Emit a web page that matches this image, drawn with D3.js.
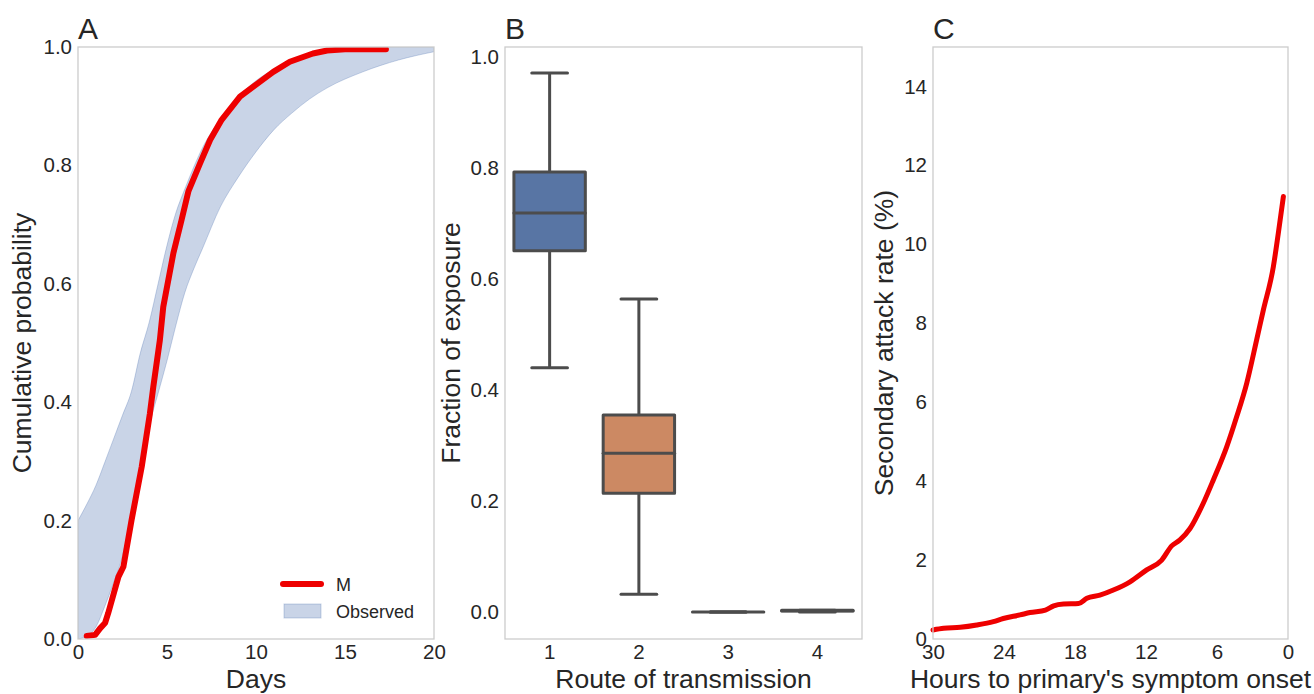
<!DOCTYPE html>
<html>
<head>
<meta charset="utf-8">
<script src="https://cdn.jsdelivr.net/npm/d3@7"></script>
<style>
body { margin: 0; background: #fff; }
text { font-family: "Liberation Sans", Arial, sans-serif; fill: #262626; }
</style>
</head>
<body>
<svg></svg>
<script>
// panel A: model CDF vs observed band
var mDays = [0.49, 0.96, 1.24, 1.52, 1.7, 2.27, 2.55, 3.01, 3.58, 4.04, 4.23, 4.6, 4.79, 5.36, 5.82, 6.2, 6.85, 7.42, 8.07, 9.1, 9.85, 10.97, 11.9, 13.2, 14.0, 15.0, 17.3];
var mProb = [0.005, 0.007, 0.018, 0.027, 0.044, 0.105, 0.122, 0.201, 0.291, 0.381, 0.426, 0.505, 0.561, 0.652, 0.708, 0.756, 0.803, 0.843, 0.877, 0.916, 0.933, 0.958, 0.975, 0.989, 0.994, 0.996, 0.996];
var obsDays  = [0, 0.5, 1, 1.5, 2, 2.5, 3, 3.5, 4, 4.5, 5, 5.5, 6, 6.5, 7, 8, 9, 10, 11, 12, 13, 14, 16, 18, 20];
var obsUpper = [0.20, 0.228, 0.259, 0.298, 0.338, 0.378, 0.418, 0.483, 0.535, 0.60, 0.665, 0.72, 0.76, 0.797, 0.83, 0.878, 0.915, 0.943, 0.962, 0.976, 0.987, 0.995, 1.0, 1.0, 1.0];
var obsLower = [0.0, 0.005, 0.02, 0.055, 0.095, 0.14, 0.21, 0.285, 0.36, 0.415, 0.47, 0.53, 0.585, 0.625, 0.66, 0.73, 0.78, 0.823, 0.86, 0.888, 0.912, 0.931, 0.958, 0.978, 0.992];
var aXTicks = [0, 5, 10, 15, 20];
var aYTicks = [0, 0.2, 0.4, 0.6, 0.8, 1.0];

// panel B: box plot per route
var routes = ["1", "2", "3", "4"];
var whiskLow = [0.44, 0.032, 0.0, 0.0];
var q1 = [0.651, 0.214, 0.0, 0.002];
var median = [0.719, 0.286, 0.0, 0.0025];
var q3 = [0.793, 0.355, 0.0, 0.003];
var whiskHigh = [0.971, 0.564, 0.0, 0.003];
var boxColors = ["#5875a4", "#cc8963", "#5f9e6e", "#b55d60"];
var bYTicks = [0, 0.2, 0.4, 0.6, 0.8, 1.0];

// panel C: secondary attack rate
var hours = [30, 29.1, 27.7, 26.3, 24.9, 24.06, 22.65, 21.8, 20.5, 19.8, 18.97, 17.7, 17.0, 15.9, 14.76, 13.35, 11.94, 10.67, 9.83, 9.13, 8.28, 7.16, 6.31, 5.18, 4.34, 3.49, 2.65, 2.08, 1.24, 0.82, 0.39];
var rate = [0.228, 0.27, 0.296, 0.355, 0.44, 0.52, 0.61, 0.67, 0.73, 0.84, 0.887, 0.90, 1.03, 1.11, 1.24, 1.45, 1.75, 2.0, 2.36, 2.51, 2.80, 3.44, 4.03, 4.87, 5.63, 6.48, 7.58, 8.34, 9.43, 10.28, 11.21];
var cXTicks = [30, 24, 18, 12, 6, 0];
var cYTicks = [0, 2, 4, 6, 8, 10, 12, 14];

var width = 1314;
var height = 694;
var plotTop = 47, plotBottom = 639;
var spine = "#cccccc";
var boxLine = "#4c4c4c";

var svg = d3.select("svg")
            .attr("width", width)
            .attr("height", height);

var styleAxis = function(g)
{
  g.select(".domain").remove();
  g.selectAll("text").attr("font-size", 20.5).style("fill", "#262626")
   .attr("font-family", "Liberation Sans, Arial, sans-serif");
}

var frame = function(left, right, letter, ylabel, ylabelX, xlabel)
{
  svg.append("rect")
     .attr("x", left).attr("y", plotTop)
     .attr("width", right - left).attr("height", plotBottom - plotTop)
     .attr("fill", "none").attr("stroke", spine).attr("stroke-width", 1.3);
  svg.append("text").text(letter)
     .attr("x", left).attr("y", 39).attr("font-size", 30);
  svg.append("text").text(xlabel)
     .attr("x", (left + right) / 2).attr("y", 688)
     .attr("text-anchor", "middle").attr("font-size", 26.5);
  svg.append("text").text(ylabel)
     .attr("transform", "translate(" + ylabelX + "," + ((plotTop + plotBottom) / 2) + ") rotate(-90)")
     .attr("text-anchor", "middle").attr("font-size", 26.5);
}

// ---------- A ----------
var ax = d3.scaleLinear().domain([0, 20]).range([78, 434]);
var ay = d3.scaleLinear().domain([0, 1]).range([plotBottom, plotTop]);

svg.append("clipPath").attr("id", "clipA")
   .append("rect").attr("x", 78).attr("y", plotTop).attr("width", 356).attr("height", plotBottom - plotTop);

var obs = obsDays.map(function(d, i) { return {d: d, lo: obsLower[i], hi: obsUpper[i]}; });
var band = d3.area()
             .x(function(d) { return ax(d.d); })
             .y0(function(d) { return ay(d.lo); })
             .y1(function(d) { return ay(d.hi); })
             .curve(d3.curveMonotoneX);
svg.append("path")
   .attr("d", band(obs))
   .attr("fill", "#4c72b0").attr("fill-opacity", 0.3)
   .attr("stroke", "#4c72b0").attr("stroke-opacity", 0.3).attr("stroke-width", 1)
   .attr("clip-path", "url(#clipA)");

var mLine = d3.line()
              .x(function(d, i) { return ax(mDays[i]); })
              .y(function(d) { return ay(d); });
svg.append("path")
   .attr("d", mLine(mProb))
   .attr("fill", "none").attr("stroke", "#ee0000").attr("stroke-width", 6)
   .attr("stroke-linejoin", "round").attr("stroke-linecap", "round")
   .attr("clip-path", "url(#clipA)");

svg.append("g").attr("transform", "translate(0," + plotBottom + ")")
   .call(d3.axisBottom(ax).tickValues(aXTicks).tickSize(0).tickPadding(5))
   .call(styleAxis);
svg.append("g").attr("transform", "translate(78,0)")
   .call(d3.axisLeft(ay).tickValues(aYTicks).tickFormat(d3.format(".1f")).tickSize(0).tickPadding(6))
   .call(styleAxis);

frame(78, 434, "A", "Cumulative probability", 31, "Days");

// legend
svg.append("line")
   .attr("x1", 283).attr("x2", 321).attr("y1", 584).attr("y2", 584)
   .attr("stroke", "#ee0000").attr("stroke-width", 6).attr("stroke-linecap", "round");
svg.append("text").text("M").attr("x", 336).attr("y", 591).attr("font-size", 18);
svg.append("rect")
   .attr("x", 284).attr("y", 604).attr("width", 37).attr("height", 14)
   .attr("fill", "#4c72b0").attr("fill-opacity", 0.3)
   .attr("stroke", "#4c72b0").attr("stroke-opacity", 0.3);
svg.append("text").text("Observed").attr("x", 336).attr("y", 618).attr("font-size", 18);

// ---------- B ----------
var bx = d3.scaleBand().domain(routes).range([505, 862]).paddingInner(0.2).paddingOuter(0.1);
var by = d3.scaleLinear().domain([-0.0486, 1.018]).range([plotBottom, plotTop]);
var bw = bx.bandwidth();

var boxes = svg.selectAll("g.box")
   .data(routes)
   .enter()
   .append("g")
   .attr("class", "box");

boxes.append("line")
     .attr("x1", function(d) { return bx(d) + bw / 2; })
     .attr("x2", function(d) { return bx(d) + bw / 2; })
     .attr("y1", function(d, i) { return by(whiskHigh[i]); })
     .attr("y2", function(d, i) { return by(whiskLow[i]); })
     .attr("stroke", boxLine).attr("stroke-width", 3);
boxes.append("line")
     .attr("x1", function(d) { return bx(d) + bw / 4; })
     .attr("x2", function(d) { return bx(d) + bw * 3 / 4; })
     .attr("y1", function(d, i) { return by(whiskHigh[i]); })
     .attr("y2", function(d, i) { return by(whiskHigh[i]); })
     .attr("stroke", boxLine).attr("stroke-width", 3).attr("stroke-linecap", "round");
boxes.append("line")
     .attr("x1", function(d) { return bx(d) + bw / 4; })
     .attr("x2", function(d) { return bx(d) + bw * 3 / 4; })
     .attr("y1", function(d, i) { return by(whiskLow[i]); })
     .attr("y2", function(d, i) { return by(whiskLow[i]); })
     .attr("stroke", boxLine).attr("stroke-width", 3).attr("stroke-linecap", "round");
boxes.append("rect")
     .attr("x", function(d) { return bx(d); })
     .attr("y", function(d, i) { return by(q3[i]); })
     .attr("width", bw)
     .attr("height", function(d, i) { return by(q1[i]) - by(q3[i]); })
     .attr("fill", function(d, i) { return boxColors[i]; })
     .attr("stroke", boxLine).attr("stroke-width", 3)
     .attr("stroke-linejoin", "round");
boxes.append("line")
     .attr("x1", function(d) { return bx(d); })
     .attr("x2", function(d) { return bx(d) + bw; })
     .attr("y1", function(d, i) { return by(median[i]); })
     .attr("y2", function(d, i) { return by(median[i]); })
     .attr("stroke", boxLine).attr("stroke-width", 3).attr("stroke-linecap", "round");

svg.append("g").attr("transform", "translate(0," + plotBottom + ")")
   .call(d3.axisBottom(bx).tickSize(0).tickPadding(5))
   .call(styleAxis);
svg.append("g").attr("transform", "translate(505,0)")
   .call(d3.axisLeft(by).tickValues(bYTicks).tickFormat(d3.format(".1f")).tickSize(0).tickPadding(6))
   .call(styleAxis);

frame(505, 862, "B", "Fraction of exposure", 460, "Route of transmission");

// ---------- C ----------
var cx = d3.scaleLinear().domain([30, 0]).range([933, 1288]);
var cy = d3.scaleLinear().domain([0, 15]).range([plotBottom, plotTop]);

var cLine = d3.line()
              .x(function(d, i) { return cx(hours[i]); })
              .y(function(d) { return cy(d); })
              .curve(d3.curveMonotoneX);
svg.append("path")
   .attr("d", cLine(rate))
   .attr("fill", "none").attr("stroke", "#ee0000").attr("stroke-width", 5)
   .attr("stroke-linejoin", "round").attr("stroke-linecap", "round");

svg.append("g").attr("transform", "translate(0," + plotBottom + ")")
   .call(d3.axisBottom(cx).tickValues(cXTicks).tickSize(0).tickPadding(5))
   .call(styleAxis);
svg.append("g").attr("transform", "translate(933,0)")
   .call(d3.axisLeft(cy).tickValues(cYTicks).tickSize(0).tickPadding(6))
   .call(styleAxis);

frame(933, 1288, "C", "Secondary attack rate (%)", 893, "Hours to primary's symptom onset");
</script>
</body>
</html>
